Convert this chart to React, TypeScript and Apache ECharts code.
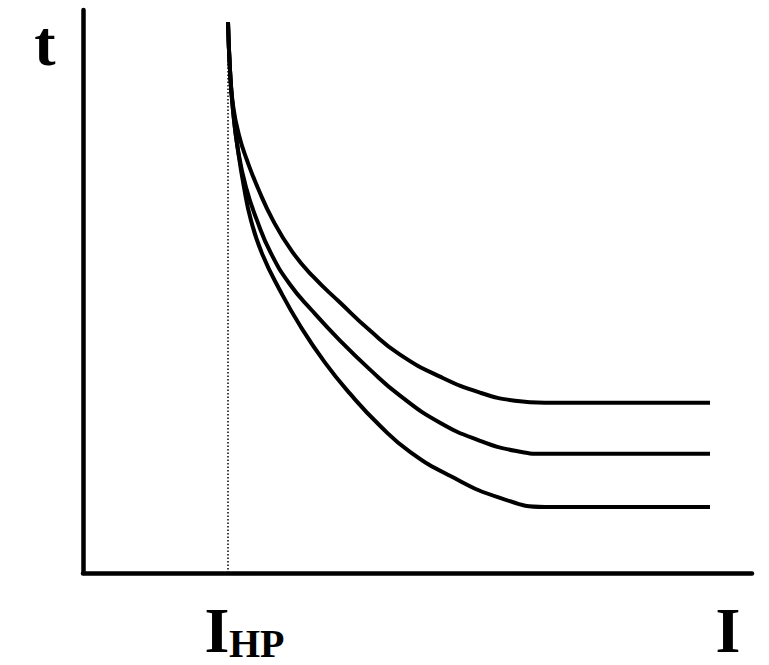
import React, { useEffect, useRef } from "react";
import * as echarts from "echarts";

// Abstract units: I (current) horizontal, t (time) vertical
const iHP = 145;
const xMax = 669;
const yMax = 562;

const curveUpper: [number, number][] = [
  [145, 550], [147, 502], [150, 467], [156, 437], [164, 412], [175, 384],
  [190, 352], [209, 321], [230, 296], [257, 270], [287, 242], [317, 218],
  [357, 196], [397, 180], [432, 172], [462, 170], [500, 170], [627, 170],
];
const curveMiddle: [number, number][] = [
  [145, 550], [147, 502], [150, 462], [155, 422], [163, 385], [174, 352],
  [188, 319], [207, 288], [229, 262], [257, 232], [287, 203], [317, 177],
  [357, 150], [397, 132], [432, 122], [462, 119], [500, 119], [627, 119],
];
const curveLower: [number, number][] = [
  [145, 550], [147, 502], [150, 462], [155, 422], [161, 385], [168, 352],
  [179, 319], [197, 282], [217, 247], [242, 210], [267, 179], [297, 147],
  [327, 121], [367, 97], [417, 75], [462, 66], [500, 66], [627, 66],
];
const thresholdLine: [number, number][] = [
  [iHP, 0], [iHP, 549],
];

const yLabel = "t";
const xLabel = "I";
const xThresholdMain = "I";
const xThresholdSub = "HP";

export default function App() {
  const ref = useRef<HTMLDivElement>(null);
  useEffect(() => {
    if (!ref.current) return;
    const chart = echarts.init(ref.current, undefined, { renderer: "svg" });
    const font = "'Liberation Serif', 'Times New Roman', serif";
    const curve = (name: string, data: [number, number][]) => ({
      name,
      type: "line",
      data,
      smooth: 0.5,
      symbol: "none",
      lineStyle: { color: "#000", width: 4 },
      z: 3,
    });
    chart.setOption({
      animation: false,
      backgroundColor: "#fff",
      grid: { left: 83, right: 17, top: 10, bottom: 92 },
      xAxis: {
        type: "value",
        min: 0,
        max: xMax,
        axisLine: { show: true, lineStyle: { color: "#000", width: 4.5 } },
        axisTick: { show: false },
        axisLabel: { show: false },
        splitLine: { show: false },
      },
      yAxis: {
        type: "value",
        min: 0,
        max: yMax,
        axisLine: { show: true, lineStyle: { color: "#000", width: 4.5 } },
        axisTick: { show: false },
        axisLabel: { show: false },
        splitLine: { show: false },
      },
      series: [
        {
          name: "threshold",
          type: "line",
          data: thresholdLine,
          symbol: "none",
          lineStyle: { color: "#000", width: 1.5, type: [1.5, 2] },
          z: 2,
        },
        curve("upper", curveUpper),
        curve("middle", curveMiddle),
        curve("lower", curveLower),
      ],
      graphic: [
        {
          type: "text",
          style: {
            text: yLabel, x: 45, y: 43, textAlign: "center", textVerticalAlign: "middle",
            font: `bold 64px ${font}`, fill: "#000",
          },
        },
        {
          type: "text",
          style: {
            text: xThresholdMain, x: 217, y: 630, textAlign: "center", textVerticalAlign: "middle",
            font: `bold 64px ${font}`, fill: "#000",
          },
        },
        {
          type: "text",
          style: {
            text: xThresholdSub, x: 229, y: 643, textAlign: "left", textVerticalAlign: "middle",
            font: `bold 40px ${font}`, fill: "#000",
          },
        },
        {
          type: "text",
          style: {
            text: xLabel, x: 728, y: 630, textAlign: "center", textVerticalAlign: "middle",
            font: `bold 64px ${font}`, fill: "#000",
          },
        },
      ],
    });
    return () => chart.dispose();
  }, []);
  return (
    <div
      ref={ref}
      style={{ position: "fixed", left: 0, top: 0, width: 769, height: 665, background: "#fff" }}
    />
  );
}
